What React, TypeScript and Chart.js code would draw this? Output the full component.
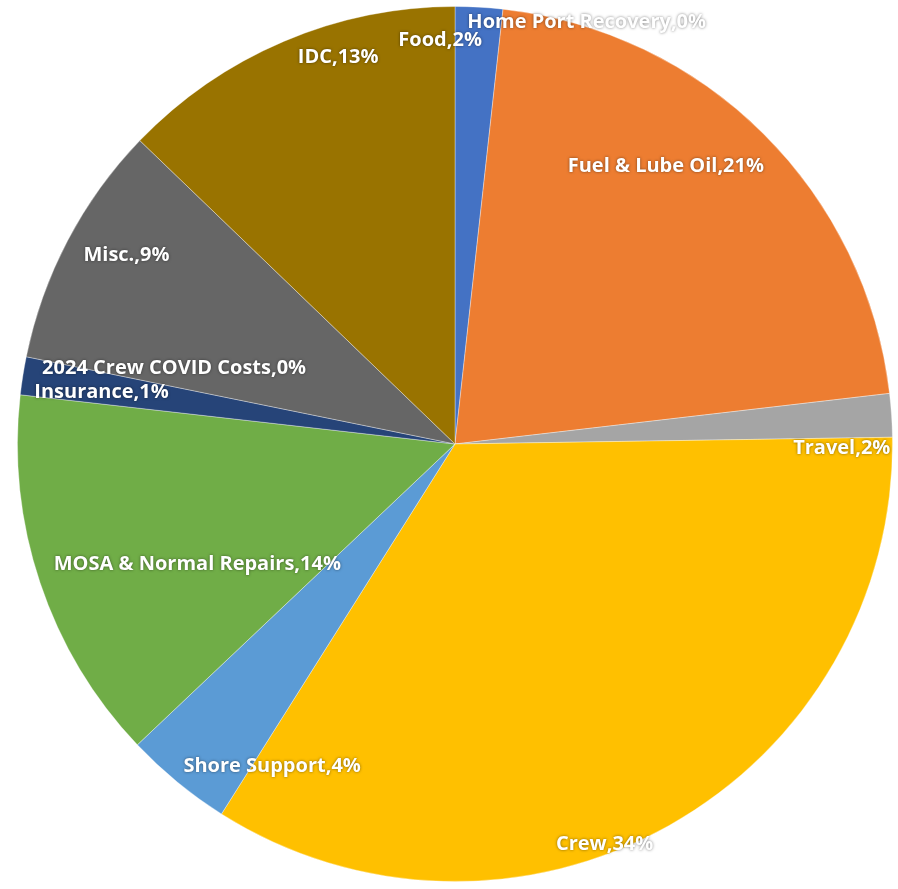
import React, { useEffect, useRef } from "react";
import { Chart, registerables } from "chart.js";

Chart.register(...registerables);

const CATEGORIES = [
  "Food",
  "Fuel & Lube Oil",
  "Travel",
  "Crew",
  "Shore Support",
  "MOSA & Normal Repairs",
  "Insurance",
  "2024 Crew COVID Costs",
  "Misc.",
  "IDC",
  "Home Port Recovery",
];

const VALUES = [1.75, 21.4, 1.6, 34.2, 3.97, 13.86, 1.4, 0.0, 9.0, 12.8, 0];

const COLORS = [
  "#4472C4",
  "#ED7D31",
  "#A5A5A5",
  "#FFC000",
  "#5B9BD5",
  "#70AD47",
  "#264478",
  "#9E480E",
  "#666666",
  "#997300",
  "#43682B",
];

// label placement relative to pie centre, in units of the radius
const LABEL_POS: [number, number][] = [
  [-0.034, -0.922],
  [0.482, -0.635],
  [0.884, 0.009],
  [0.342, 0.916],
  [-0.418, 0.737],
  [-0.589, 0.276],
  [-0.808, -0.119],
  [-0.642, -0.174],
  [-0.751, -0.432],
  [-0.267, -0.884],
  [0.301, -0.963],
];

const labelPlugin = {
  id: "sliceLabels",
  afterDatasetsDraw(chart: any) {
    const meta = chart.getDatasetMeta(0);
    const arc0 = meta.data[0];
    if (!arc0) return;
    const cx = arc0.x;
    const cy = arc0.y;
    const r = arc0.outerRadius;
    const data = chart.data.datasets[0].data as number[];
    const total = data.reduce((a: number, b: number) => a + b, 0);
    const ctx = chart.ctx;
    ctx.save();
    ctx.font = "bold 20px 'Open Sans', sans-serif";
    ctx.textAlign = "center";
    ctx.textBaseline = "middle";
    ctx.fillStyle = "#ffffff";
    ctx.shadowColor = "rgba(0,0,0,0.5)";
    ctx.shadowBlur = 3;
    chart.data.labels.forEach((lab: string, i: number) => {
      const pct = Math.round((data[i] / total) * 100);
      const [fx, fy] = LABEL_POS[i];
      ctx.fillText(`${lab},${pct}%`, cx + fx * r, cy + fy * r);
    });
    ctx.restore();
  },
};

export default function App() {
  const ref = useRef<HTMLCanvasElement>(null);
  useEffect(() => {
    if (!ref.current) return;
    const chart = new Chart(ref.current, {
      type: "pie",
      data: {
        labels: CATEGORIES,
        datasets: [
          {
            data: VALUES,
            backgroundColor: COLORS,
            borderColor: "rgba(255,255,255,0.35)",
            borderWidth: 1,
          },
        ],
      },
      options: {
        responsive: false,
        animation: false,
        layout: { padding: { left: 17, right: 5, top: 6, bottom: 7 } },
        plugins: {
          legend: { display: false },
          tooltip: { enabled: false },
        },
      },
      plugins: [labelPlugin],
    });
    return () => chart.destroy();
  }, []);
  return (
    <div style={{ position: "fixed", left: 0, top: 0, width: 898, height: 889, background: "#fff" }}>
      <canvas ref={ref} width={898} height={889} style={{ width: 898, height: 889 }} />
    </div>
  );
}
